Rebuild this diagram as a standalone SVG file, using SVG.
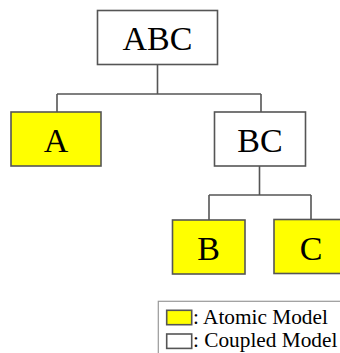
<svg xmlns="http://www.w3.org/2000/svg" width="340" height="353" viewBox="0 0 340 353">
  <style>
    .box { stroke: #555; stroke-width: 1.6; }
    .atomic { fill: #ffff00; }
    .coupled { fill: #ffffff; }
    .conn { fill: none; stroke: #555; stroke-width: 1.6; }
  </style>
  <rect width="340" height="353" fill="#ffffff"/>

  <!-- tree connectors -->
  <g id="connectors">
    <path class="conn" d="M157.5 64.5 V94 M57 94 H261 M57 94 V112 M261 94 V112"/>
    <path class="conn" d="M259.5 166 V195 M209 195 H311 M209 195 V220 M311 195 V219.5"/>
  </g>

  <g font-family="Liberation Serif, Times New Roman, DejaVu Serif, serif" font-size="34" text-anchor="middle" fill="#000">
    <g id="node-ABC">
      <rect class="box coupled" x="97.5" y="10.5" width="120" height="54"/>
      <text x="157.5" y="50">ABC</text>
    </g>
    <g id="node-A">
      <rect class="box atomic" x="11" y="112" width="90" height="54"/>
      <text x="56" y="152">A</text>
    </g>
    <g id="node-BC">
      <rect class="box coupled" x="214.5" y="112" width="91" height="54"/>
      <text x="260" y="152">BC</text>
    </g>
    <g id="node-B">
      <rect class="box atomic" x="172.5" y="220" width="72.5" height="54"/>
      <text x="208.7" y="260">B</text>
    </g>
    <g id="node-C">
      <rect class="box atomic" x="274" y="219.5" width="74" height="54"/>
      <text x="311" y="259.5">C</text>
    </g>
  </g>

  <!-- legend -->
  <g id="legend" font-family="Liberation Serif, Times New Roman, DejaVu Serif, serif" font-size="21.3" fill="#000">
    <rect x="158.3" y="301.3" width="190" height="60" fill="#ffffff" stroke="#999" stroke-width="1.2"/>
    <rect class="box atomic" x="166.7" y="310.3" width="25" height="14.4" stroke-width="1.2"/>
    <text x="193" y="324">: Atomic Model</text>
    <rect class="box coupled" x="166.7" y="334" width="25" height="14.4" stroke-width="1.2"/>
    <text x="193" y="346.5">: Coupled Model</text>
  </g>
</svg>
